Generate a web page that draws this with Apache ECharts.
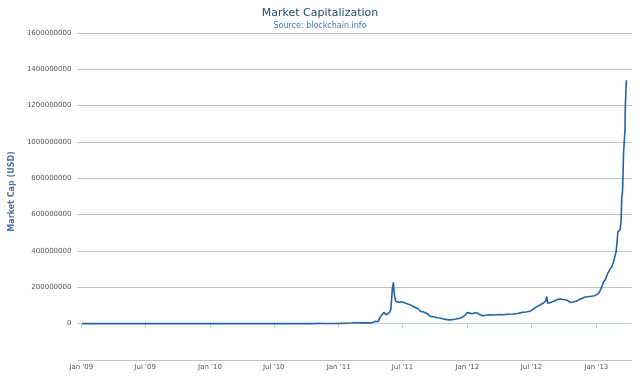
<!DOCTYPE html>
<html>
<head>
<meta charset="utf-8">
<script src="https://cdn.jsdelivr.net/npm/echarts@6/dist/echarts.min.js"></script>
<style>html,body{margin:0;padding:0;background:#fff}#c{width:640px;height:380px}</style>
</head>
<body>
<div id="c"></div>
<script>
// ---- data ----
var dates = [
  '2009-01-03','2009-07-01','2010-01-01','2010-07-17','2010-08-15','2010-09-15','2010-10-20',
  '2010-11-06','2010-11-20','2010-12-05','2010-12-20','2011-01-05','2011-01-20','2011-02-05',
  '2011-02-12','2011-02-25','2011-03-10','2011-03-25','2011-04-05','2011-04-16','2011-04-23',
  '2011-04-30','2011-05-09','2011-05-16','2011-05-24','2011-05-29','2011-06-02','2011-06-05',
  '2011-06-08','2011-06-12','2011-06-16','2011-06-21','2011-06-26','2011-07-01','2011-07-05',
  '2011-07-10','2011-07-15','2011-07-20','2011-07-24','2011-07-29','2011-08-02','2011-08-08',
  '2011-08-12','2011-08-16','2011-08-21','2011-08-28','2011-09-04','2011-09-11','2011-09-18',
  '2011-09-28','2011-10-08','2011-10-15','2011-10-22','2011-10-29','2011-11-05','2011-11-12',
  '2011-11-19','2011-11-26','2011-12-03','2011-12-10','2011-12-17','2011-12-24','2012-01-01',
  '2012-01-08','2012-01-15','2012-01-22','2012-01-29','2012-02-05','2012-02-12','2012-02-22',
  '2012-03-06','2012-03-16','2012-03-26','2012-04-05','2012-04-12','2012-04-25','2012-05-10',
  '2012-05-22','2012-06-05','2012-06-14','2012-06-22','2012-06-29','2012-07-06','2012-07-12',
  '2012-07-18','2012-07-26','2012-08-04','2012-08-10','2012-08-13','2012-08-16','2012-08-19',
  '2012-08-24','2012-08-31','2012-09-07','2012-09-14','2012-09-21','2012-09-28','2012-10-05',
  '2012-10-12','2012-10-19','2012-10-26','2012-11-02','2012-11-09','2012-11-16','2012-11-23',
  '2012-11-30','2012-12-07','2012-12-14','2012-12-21','2012-12-28','2013-01-02','2013-01-06',
  '2013-01-11','2013-01-17','2013-01-20','2013-01-26','2013-02-03','2013-02-09','2013-02-14',
  '2013-02-20','2013-02-26','2013-03-01','2013-03-03','2013-03-06','2013-03-09','2013-03-12',
  '2013-03-14','2013-03-16','2013-03-17','2013-03-19','2013-03-21','2013-03-22','2013-03-23',
  '2013-03-24','2013-03-27'
];
var capMillions = [
  0,0,0,0.2,0.25,0.25,0.45,
  1.8,1.3,1.0,1.1,1.5,2.0,3.5,
  5.5,4.8,4.6,4.2,4.5,13,11,
  40,62,49,59,77,187,227,
  159,122,128,118,114,120,117,
  112,108,106,104,97,92,88,
  86,80,67,66,60,52,40,
  38,33,31,27,25,22,21,
  22,24,27,30,35,44,62,
  58,55,60,59,50,44,46,
  49,48,49,50,49,52,53,
  56,62,64,67,70,81,88,
  95,104,114,125,150,112,104,
  117,122,128,134,136,133,132,
  126,117,119,122,128,136,140,
  147,148,150,152,154,148,165,
  180,205,224,242,280,300,315,
  351,397,461,507,500,516,562,
  700,720,780,937,1000,990,1065,
  1190,1340
];
var tickDates = ['2009-01-01','2009-07-01','2010-01-01','2010-07-01','2011-01-01','2011-07-01','2012-01-01','2012-07-01','2013-01-01'];
var tickLabels = ["Jan '09","Jul '09","Jan '10","Jul '10","Jan '11","Jul '11","Jan '12","Jul '12","Jan '13"];

// ---- chart ----
var ts = function (s) { return new Date(s + 'T00:00:00Z').getTime(); };
var seriesData = dates.map(function (d, i) { return [ts(d), capMillions[i] * 1e6]; });
var tickTs = tickDates.map(ts);
var font = 'DejaVu Sans';

var chart = echarts.init(document.getElementById('c'), null, { renderer: 'canvas' });
chart.setOption({
  animation: false,
  backgroundColor: '#ffffff',
  title: [
    { text: 'Market Capitalization', left: 'center', top: 3,
      textStyle: { fontFamily: font, fontSize: 11, fontWeight: 'normal', color: '#274b6d' } },
    { text: 'Source: blockchain.info', left: 'center', top: 17,
      textStyle: { fontFamily: font, fontSize: 8, fontWeight: 'normal', color: '#4d759e' } }
  ],
  grid: { left: 76, right: 8, top: 33, bottom: 20 },
  xAxis: {
    type: 'value',
    min: ts('2008-12-21'),
    max: ts('2013-04-12'),
    axisLine: { show: true, lineStyle: { color: '#C0D0E0', width: 1 } },
    axisTick: { show: true, customValues: tickTs, length: 5, lineStyle: { color: '#C0D0E0' } },
    axisLabel: {
      customValues: tickTs,
      margin: 4,
      fontFamily: font, fontSize: 7, color: '#555555',
      formatter: function (v) {
        var i = tickTs.indexOf(v);
        return i >= 0 ? tickLabels[i] : '';
      }
    },
    splitLine: { show: false }
  },
  yAxis: {
    type: 'value',
    min: -200000000,
    max: 1600000000,
    interval: 200000000,
    name: 'Market Cap (USD)',
    nameLocation: 'middle',
    nameGap: 60,
    nameTextStyle: { fontFamily: font, fontSize: 8, fontWeight: 'bold', color: '#4d759e', padding: [0, 0, 0, 10] },
    axisLine: { show: false },
    axisTick: { show: false },
    axisLabel: {
      margin: 6,
      fontFamily: font, fontSize: 7, color: '#555555',
      formatter: function (v) { return v < 0 ? '' : String(v); }
    },
    splitLine: { show: true, lineStyle: { color: '#C0C0C0', width: 1 } }
  },
  series: [{
    type: 'line',
    data: seriesData,
    showSymbol: false,
    symbol: 'none',
    lineStyle: { color: '#2464a4', width: 1.6 },
    z: 5
  }]
});
</script>
</body>
</html>
